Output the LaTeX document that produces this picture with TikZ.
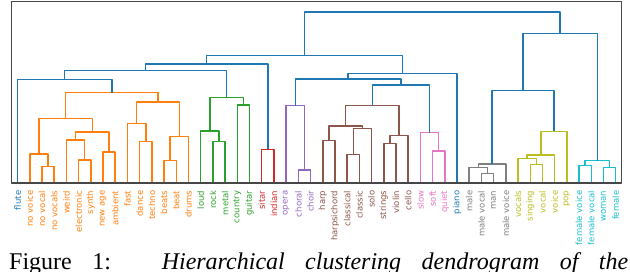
\documentclass[tikz,border=0pt]{standalone}
\usepackage{fontspec}
\usepackage{xcolor}
\usepackage{tikz}
\newfontfamily\leaffont{DejaVu Sans}
\newfontfamily\capfont{Liberation Serif}
\definecolor{tabblue}{HTML}{1F77B4}
\definecolor{taborange}{HTML}{FF7F0E}
\definecolor{tabgreen}{HTML}{2CA02C}
\definecolor{tabred}{HTML}{D62728}
\definecolor{tabpurple}{HTML}{9467BD}
\definecolor{tabbrown}{HTML}{8C564B}
\definecolor{tabpink}{HTML}{E377C2}
\definecolor{tabgray}{HTML}{7F7F7F}
\definecolor{tabolive}{HTML}{BCBD22}
\definecolor{tabcyan}{HTML}{17BECF}
\tikzset{
  leaf/.style={rotate=90,anchor=east,inner sep=0pt,font=\leaffont\fontsize{8.5}{10}\selectfont},
  dlink/.style={line width=1.5pt},
  axframe/.style={line width=1.2pt,black!72},
}

\begin{document}
\begin{tikzpicture}[x=12.206pt,y=-1pt,line join=round]
  \clip (-1.442,0) rectangle (50.172,272);
  % leaves
  \coordinate (L0) at (0,183);
  \coordinate (L1) at (1,183);
  \coordinate (L2) at (2,183);
  \coordinate (L3) at (3,183);
  \coordinate (L4) at (4,183);
  \coordinate (L5) at (5,183);
  \coordinate (L6) at (6,183);
  \coordinate (L7) at (7,183);
  \coordinate (L8) at (8,183);
  \coordinate (L9) at (9,183);
  \coordinate (L10) at (10,183);
  \coordinate (L11) at (11,183);
  \coordinate (L12) at (12,183);
  \coordinate (L13) at (13,183);
  \coordinate (L14) at (14,183);
  \coordinate (L15) at (15,183);
  \coordinate (L16) at (16,183);
  \coordinate (L17) at (17,183);
  \coordinate (L18) at (18,183);
  \coordinate (L19) at (19,183);
  \coordinate (L20) at (20,183);
  \coordinate (L21) at (21,183);
  \coordinate (L22) at (22,183);
  \coordinate (L23) at (23,183);
  \coordinate (L24) at (24,183);
  \coordinate (L25) at (25,183);
  \coordinate (L26) at (26,183);
  \coordinate (L27) at (27,183);
  \coordinate (L28) at (28,183);
  \coordinate (L29) at (29,183);
  \coordinate (L30) at (30,183);
  \coordinate (L31) at (31,183);
  \coordinate (L32) at (32,183);
  \coordinate (L33) at (33,183);
  \coordinate (L34) at (34,183);
  \coordinate (L35) at (35,183);
  \coordinate (L36) at (36,183);
  \coordinate (L37) at (37,183);
  \coordinate (L38) at (38,183);
  \coordinate (L39) at (39,183);
  \coordinate (L40) at (40,183);
  \coordinate (L41) at (41,183);
  \coordinate (L42) at (42,183);
  \coordinate (L43) at (43,183);
  \coordinate (L44) at (44,183);
  \coordinate (L45) at (45,183);
  \coordinate (L46) at (46,183);
  \coordinate (L47) at (47,183);
  \coordinate (L48) at (48,183);
  \coordinate (L49) at (49,183);
  % merges
  \coordinate (O1) at (2.5,166.7);
  \coordinate (O2) at (1.75,154);
  \coordinate (O3) at (5.5,160);
  \coordinate (O4) at (4.75,140);
  \coordinate (O5) at (7.5,152);
  \coordinate (O6) at (6.125,132);
  \coordinate (O7) at (3.9375,118.7);
  \coordinate (O8) at (10.5,141.7);
  \coordinate (O9) at (9.75,123.7);
  \coordinate (O10) at (12.5,160.7);
  \coordinate (O11) at (13.25,136.7);
  \coordinate (O12) at (11.5,102);
  \coordinate (O13) at (7.71875,92.7);
  \coordinate (G1) at (16.5,141.3);
  \coordinate (G2) at (15.75,131);
  \coordinate (G3) at (18.5,105);
  \coordinate (G4) at (17.125,97.3);
  \coordinate (R1) at (20.5,149.3);
  \coordinate (U1) at (23.5,170);
  \coordinate (U2) at (22.75,105.7);
  \coordinate (B1) at (25.5,140.7);
  \coordinate (B2) at (27.5,154.7);
  \coordinate (B3) at (28.25,128.7);
  \coordinate (B4) at (26.875,126);
  \coordinate (B5) at (30.5,143.7);
  \coordinate (B6) at (31.25,135.7);
  \coordinate (B7) at (29.0625,105.7);
  \coordinate (K1) at (34.5,151);
  \coordinate (K2) at (33.75,132.7);
  \coordinate (A1) at (38.5,173.3);
  \coordinate (A2) at (37.75,167.3);
  \coordinate (A3) at (38.875,164);
  \coordinate (V1) at (42.5,164.7);
  \coordinate (V2) at (41.75,158.7);
  \coordinate (V3) at (42.875,155);
  \coordinate (V4) at (43.9375,131.3);
  \coordinate (C1) at (46.5,165.7);
  \coordinate (C2) at (48.5,167.7);
  \coordinate (C3) at (47.5,160.7);
  \coordinate (S1) at (3.859375,79.3);
  \coordinate (S2) at (10.4921875,70.7);
  \coordinate (S3) at (15.49609375,64);
  \coordinate (S4) at (31.40625,85);
  \coordinate (S5) at (27.078125,79);
  \coordinate (S6) at (31.5390625,73.7);
  \coordinate (S7) at (23.517578,55.7);
  \coordinate (S8) at (41.40625,90.3);
  \coordinate (S9) at (44.453125,33.3);
  \coordinate (S10) at (33.985352,12);
  % links
  \draw[dlink,taborange] (L2) |- (O1) -| (L3);
  \draw[dlink,taborange] (L1) |- (O2) -| (O1);
  \draw[dlink,taborange] (L5) |- (O3) -| (L6);
  \draw[dlink,taborange] (L4) |- (O4) -| (O3);
  \draw[dlink,taborange] (L7) |- (O5) -| (L8);
  \draw[dlink,taborange] (O4) |- (O6) -| (O5);
  \draw[dlink,taborange] (O2) |- (O7) -| (O6);
  \draw[dlink,taborange] (L10) |- (O8) -| (L11);
  \draw[dlink,taborange] (L9) |- (O9) -| (O8);
  \draw[dlink,taborange] (L12) |- (O10) -| (L13);
  \draw[dlink,taborange] (O10) |- (O11) -| (L14);
  \draw[dlink,taborange] (O9) |- (O12) -| (O11);
  \draw[dlink,taborange] (O7) |- (O13) -| (O12);
  \draw[dlink,tabgreen] (L16) |- (G1) -| (L17);
  \draw[dlink,tabgreen] (L15) |- (G2) -| (G1);
  \draw[dlink,tabgreen] (L18) |- (G3) -| (L19);
  \draw[dlink,tabgreen] (G2) |- (G4) -| (G3);
  \draw[dlink,tabred] (L20) |- (R1) -| (L21);
  \draw[dlink,tabpurple] (L23) |- (U1) -| (L24);
  \draw[dlink,tabpurple] (L22) |- (U2) -| (U1);
  \draw[dlink,tabbrown] (L25) |- (B1) -| (L26);
  \draw[dlink,tabbrown] (L27) |- (B2) -| (L28);
  \draw[dlink,tabbrown] (B2) |- (B3) -| (L29);
  \draw[dlink,tabbrown] (B1) |- (B4) -| (B3);
  \draw[dlink,tabbrown] (L30) |- (B5) -| (L31);
  \draw[dlink,tabbrown] (B5) |- (B6) -| (L32);
  \draw[dlink,tabbrown] (B4) |- (B7) -| (B6);
  \draw[dlink,tabpink] (L34) |- (K1) -| (L35);
  \draw[dlink,tabpink] (L33) |- (K2) -| (K1);
  \draw[dlink,tabgray] (L38) |- (A1) -| (L39);
  \draw[dlink,tabgray] (L37) |- (A2) -| (A1);
  \draw[dlink,tabgray] (A2) |- (A3) -| (L40);
  \draw[dlink,tabolive] (L42) |- (V1) -| (L43);
  \draw[dlink,tabolive] (L41) |- (V2) -| (V1);
  \draw[dlink,tabolive] (V2) |- (V3) -| (L44);
  \draw[dlink,tabolive] (V3) |- (V4) -| (L45);
  \draw[dlink,tabcyan] (L46) |- (C1) -| (L47);
  \draw[dlink,tabcyan] (L48) |- (C2) -| (L49);
  \draw[dlink,tabcyan] (C1) |- (C3) -| (C2);
  \draw[dlink,tabblue] (L0) |- (S1) -| (O13);
  \draw[dlink,tabblue] (S1) |- (S2) -| (G4);
  \draw[dlink,tabblue] (S2) |- (S3) -| (R1);
  \draw[dlink,tabblue] (B7) |- (S4) -| (K2);
  \draw[dlink,tabblue] (U2) |- (S5) -| (S4);
  \draw[dlink,tabblue] (S5) |- (S6) -| (L36);
  \draw[dlink,tabblue] (S3) |- (S7) -| (S6);
  \draw[dlink,tabblue] (A3) |- (S8) -| (V4);
  \draw[dlink,tabblue] (S8) |- (S9) -| (C3);
  \draw[dlink,tabblue] (S7) |- (S10) -| (S9);
  % axes box
  \draw[axframe] (-0.5,1.5) rectangle (49.5,183);
  % leaf labels
  \node[leaf,text=tabblue] (N0) at (0,190.5) {flute};
  \node[leaf,text=taborange] (N1) at (1,190.5) {no voice};
  \node[leaf,text=taborange] (N2) at (2,190.5) {no vocal};
  \node[leaf,text=taborange] (N3) at (3,190.5) {no vocals};
  \node[leaf,text=taborange] (N4) at (4,190.5) {weird};
  \node[leaf,text=taborange] (N5) at (5,190.5) {electronic};
  \node[leaf,text=taborange] (N6) at (6,190.5) {synth};
  \node[leaf,text=taborange] (N7) at (7,190.5) {new age};
  \node[leaf,text=taborange] (N8) at (8,190.5) {ambient};
  \node[leaf,text=taborange] (N9) at (9,190.5) {fast};
  \node[leaf,text=taborange] (N10) at (10,190.5) {dance};
  \node[leaf,text=taborange] (N11) at (11,190.5) {techno};
  \node[leaf,text=taborange] (N12) at (12,190.5) {beats};
  \node[leaf,text=taborange] (N13) at (13,190.5) {beat};
  \node[leaf,text=taborange] (N14) at (14,190.5) {drums};
  \node[leaf,text=tabgreen] (N15) at (15,190.5) {loud};
  \node[leaf,text=tabgreen] (N16) at (16,190.5) {rock};
  \node[leaf,text=tabgreen] (N17) at (17,190.5) {metal};
  \node[leaf,text=tabgreen] (N18) at (18,190.5) {country};
  \node[leaf,text=tabgreen] (N19) at (19,190.5) {guitar};
  \node[leaf,text=tabred] (N20) at (20,190.5) {sitar};
  \node[leaf,text=tabred] (N21) at (21,190.5) {indian};
  \node[leaf,text=tabpurple] (N22) at (22,190.5) {opera};
  \node[leaf,text=tabpurple] (N23) at (23,190.5) {choral};
  \node[leaf,text=tabpurple] (N24) at (24,190.5) {choir};
  \node[leaf,text=tabbrown] (N25) at (25,190.5) {harp};
  \node[leaf,text=tabbrown] (N26) at (26,190.5) {harpsichord};
  \node[leaf,text=tabbrown] (N27) at (27,190.5) {classical};
  \node[leaf,text=tabbrown] (N28) at (28,190.5) {classic};
  \node[leaf,text=tabbrown] (N29) at (29,190.5) {solo};
  \node[leaf,text=tabbrown] (N30) at (30,190.5) {strings};
  \node[leaf,text=tabbrown] (N31) at (31,190.5) {violin};
  \node[leaf,text=tabbrown] (N32) at (32,190.5) {cello};
  \node[leaf,text=tabpink] (N33) at (33,190.5) {slow};
  \node[leaf,text=tabpink] (N34) at (34,190.5) {soft};
  \node[leaf,text=tabpink] (N35) at (35,190.5) {quiet};
  \node[leaf,text=tabblue] (N36) at (36,190.5) {piano};
  \node[leaf,text=tabgray] (N37) at (37,190.5) {male};
  \node[leaf,text=tabgray] (N38) at (38,190.5) {male vocal};
  \node[leaf,text=tabgray] (N39) at (39,190.5) {man};
  \node[leaf,text=tabgray] (N40) at (40,190.5) {male voice};
  \node[leaf,text=tabolive] (N41) at (41,190.5) {vocals};
  \node[leaf,text=tabolive] (N42) at (42,190.5) {singing};
  \node[leaf,text=tabolive] (N43) at (43,190.5) {vocal};
  \node[leaf,text=tabolive] (N44) at (44,190.5) {voice};
  \node[leaf,text=tabolive] (N45) at (45,190.5) {pop};
  \node[leaf,text=tabcyan] (N46) at (46,190.5) {female voice};
  \node[leaf,text=tabcyan] (N47) at (47,190.5) {female vocal};
  \node[leaf,text=tabcyan] (N48) at (48,190.5) {woman};
  \node[leaf,text=tabcyan] (N49) at (49,190.5) {female};
  % caption
  \node[anchor=base west,inner sep=0pt,font=\capfont\fontsize{24}{28}\selectfont] (cap) at (-0.704,270)
    {\makebox[619pt][s]{Figure 1:\hspace{14pt} \textit{Hierarchical clustering dendrogram of the}}};
\end{tikzpicture}
\end{document}
